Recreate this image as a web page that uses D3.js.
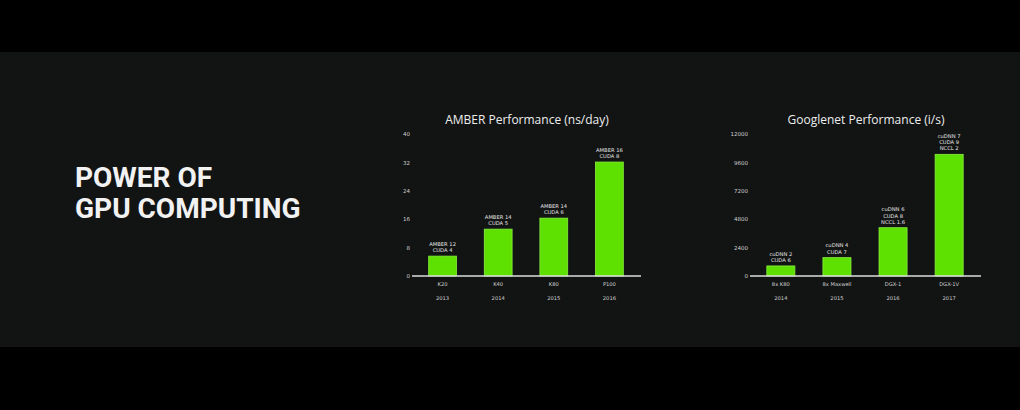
<!DOCTYPE html>
<html><head><meta charset="utf-8">
<script src="https://cdn.jsdelivr.net/npm/d3@7"></script>
<style>body{margin:0;background:#000;}svg{display:block;}</style>
</head><body>
<svg id="c" width="1020" height="410"></svg>
<script>
const amberCats = ["K20","K40","K80","P100"];
const amberYears = ["2013","2014","2015","2016"];
const amberVals = [5.6, 13.2, 16.3, 32.1];
const amberLabels = [["AMBER 12","CUDA 4"],["AMBER 14","CUDA 5"],["AMBER 14","CUDA 6"],["AMBER 16","CUDA 8"]];
const amberTicks = [0,8,16,24,32,40];

const gnCats = ["8x K80","8x Maxwell","DGX-1","DGX-1V"];
const gnYears = ["2014","2015","2016","2017"];
const gnVals = [850, 1550, 4080, 10280];
const gnLabels = [["cuDNN 2","CUDA 6"],["cuDNN 4","CUDA 7"],["cuDNN 6","CUDA 8","NCCL 1.6"],["cuDNN 7","CUDA 9","NCCL 2"]];
const gnTicks = [0,2400,4800,7200,9600,12000];

const svg = d3.select("#c");
svg.append("rect").attr("x",0).attr("y",52).attr("width",1020).attr("height",295).attr("fill","#121414");

const title = svg.append("text").attr("font-family","Roboto, 'DejaVu Sans', sans-serif")
  .attr("font-weight","bold").attr("font-size",28).attr("fill","#f2f2f2");
title.append("tspan").attr("x",75).attr("y",187).text("POWER OF");
title.append("tspan").attr("x",75).attr("y",218).text("GPU COMPUTING");

function chart(opts){
  const {x0,x1,cats,years,vals,labels,ticks,ttl} = opts;
  const y = d3.scaleLinear().domain([0,ticks[ticks.length-1]]).range([276,134]);
  const x = d3.scaleBand().domain(cats).range([x0,x1]).paddingInner(0.5).paddingOuter(0.3);
  const g = svg.append("g");
  g.append("text").attr("x",(x0+x1)/2+1).attr("y",124).attr("text-anchor","middle")
    .attr("font-family","'Open Sans', 'DejaVu Sans', sans-serif").attr("font-size",12).attr("fill","#eeeeee").text(ttl);
  const ax = d3.axisLeft(y).tickValues(ticks).tickSize(0).tickPadding(0).tickFormat(d3.format("d"));
  const ag = g.append("g").attr("transform",`translate(${x0-2},0)`).call(ax);
  ag.select(".domain").remove();
  ag.selectAll("text").attr("fill","#cfcfcf").attr("font-size",5.5).attr("font-family","'DejaVu Sans', sans-serif");
  g.selectAll("rect.bar").data(vals).enter().append("rect").attr("class","bar")
    .attr("x",(d,i)=>x(cats[i])).attr("width",x.bandwidth())
    .attr("y",d=>y(d)).attr("height",d=>y(0)-y(d))
    .attr("fill","#5ee000").attr("stroke","#8af040").attr("stroke-width",0.8);
  g.append("line").attr("x1",x0).attr("x2",x1+1).attr("y1",y(0)).attr("y2",y(0))
    .attr("stroke","#dddddd").attr("stroke-width",1.3);
  vals.forEach((v,i)=>{
    const lb = labels[i];
    const cx = x(cats[i])+x.bandwidth()/2;
    lb.forEach((s,j)=>{
      g.append("text").attr("x",cx).attr("y",y(v)-4-(lb.length-1-j)*6.2).attr("text-anchor","middle")
        .attr("font-family","'DejaVu Sans', sans-serif").attr("font-size",5.2).attr("fill","#e6e6e6").text(s);
    });
    g.append("text").attr("x",cx).attr("y",286).attr("text-anchor","middle")
      .attr("font-family","'DejaVu Sans', sans-serif").attr("font-size",5.2).attr("fill","#d0d0d0").text(cats[i]);
    g.append("text").attr("x",cx).attr("y",300).attr("text-anchor","middle")
      .attr("font-family","'DejaVu Sans', sans-serif").attr("font-size",5.2).attr("fill","#d0d0d0").text(years[i]);
  });
}
chart({x0:412,x1:640,cats:amberCats,years:amberYears,vals:amberVals,labels:amberLabels,ticks:amberTicks,ttl:"AMBER Performance (ns/day)"});
chart({x0:750,x1:980,cats:gnCats,years:gnYears,vals:gnVals,labels:gnLabels,ticks:gnTicks,ttl:"Googlenet Performance (i/s)"});
</script>
</body></html>
